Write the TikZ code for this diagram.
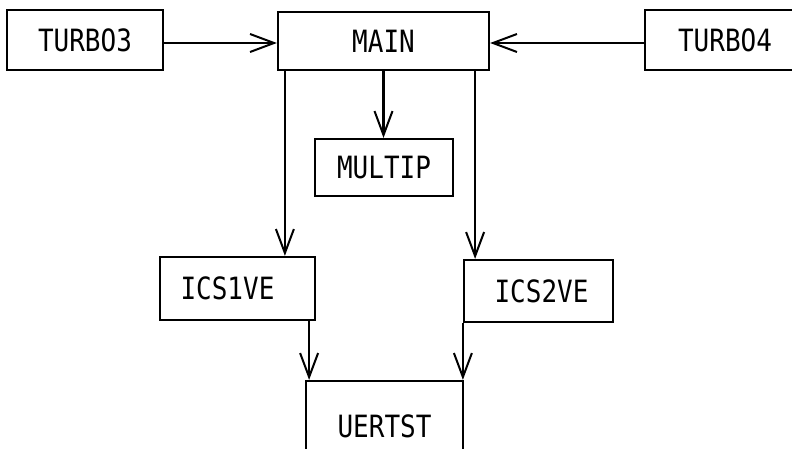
\documentclass[tikz,border=0pt]{standalone}
\usepackage{fontspec}
\setmonofont{DejaVu Sans Mono}
\usetikzlibrary{arrows.meta}
\tikzset{
  box/.style={draw=black, line width=2.2pt, rectangle, inner sep=0pt, anchor=center,
    font=\ttfamily\fontsize{26}{26}\selectfont},
  arr/.style={draw=black, line width=2.2pt, -{Straight Barb[length=24pt,width=18pt,line width=2pt]}},
}
\newcommand{\lbl}[1]{\scalebox{1}[1.18]{#1}}
\begin{document}
\begin{tikzpicture}[x=1pt,y=-1pt]
\useasboundingbox (0,0) rectangle (792,448);
\node[box, minimum width=156pt, minimum height=60pt] (TURBO3) at (85,40) {\lbl{TURBO3}};
\node[box, minimum width=211pt, minimum height=58pt] (MAIN) at (383.5,41) {\lbl{MAIN}};
\node[box, minimum width=160pt, minimum height=60pt] (TURBO4) at (725,40) {\lbl{TURBO4}};
\node[box, minimum width=138pt, minimum height=57pt] (MULTIP) at (384,167.5) {\lbl{MULTIP}};
\node[box, minimum width=155pt, minimum height=63pt] (ICS1VE) at (237.5,288.5) {\hspace*{-20pt}\lbl{ICS1VE}};
\node[box, minimum width=149pt, minimum height=62pt] (ICS2VE) at (538.5,291) {\hspace*{6pt}\lbl{ICS2VE}};
\node[box, minimum width=157pt, minimum height=90pt] (UERTST) at (384.5,426) {\lbl{UERTST}};

\draw[arr] (TURBO3.east |- 0,43) -- (MAIN.west |- 0,43);
\draw[arr] (TURBO4.west |- 0,43) -- (MAIN.east |- 0,43);
\draw[arr] ([xshift=8pt]MAIN.south west) -- ([xshift=8pt]MAIN.south west |- ICS1VE.north);
\draw[arr] (MAIN.south) -- (MAIN.south |- MULTIP.north);
\draw[arr] ([xshift=-15pt]MAIN.south east) -- ([xshift=-15pt]MAIN.south east |- ICS2VE.north);
\draw[arr] ([xshift=-7pt]ICS1VE.south east) -- ([xshift=-7pt]ICS1VE.south east |- UERTST.north);
\draw[arr] (ICS2VE.south west) -- (ICS2VE.south west |- UERTST.north);
\end{tikzpicture}
\end{document}
